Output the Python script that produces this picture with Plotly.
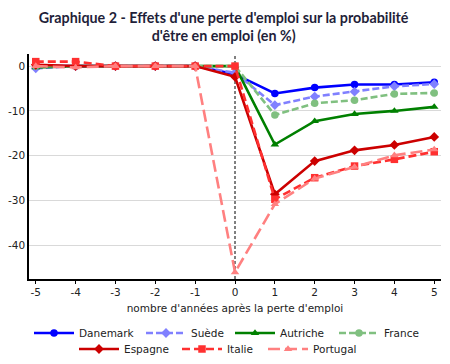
import plotly.graph_objects as go

years = [-5, -4, -3, -2, -1, 0, 1, 2, 3, 4, 5]

danemark = [0.0, 0.0, 0.0, 0.0, 0.0, -1.8, -6.1, -4.8, -4.1, -4.1, -3.6]
suede = [-0.5, 0.0, 0.0, 0.0, 0.0, -1.5, -8.7, -6.8, -5.7, -4.5, -4.0]
autriche = [-0.3, 0.0, 0.0, 0.0, 0.0, 0.0, -17.5, -12.3, -10.7, -10.0, -9.1]
france = [0.0, 0.0, 0.0, 0.0, 0.0, 0.0, -10.9, -8.3, -7.6, -6.2, -6.0]
espagne = [0.3, 0.0, 0.0, 0.0, 0.0, -2.4, -28.6, -21.2, -18.8, -17.6, -15.8]
italie = [1.0, 1.0, 0.0, 0.0, 0.0, 0.0, -29.7, -24.9, -22.3, -20.8, -19.1]
portugal = [0.0, -0.3, 0.0, 0.0, 0.0, -46.0, -30.8, -25.1, -22.5, -19.9, -18.6]

x_ticks = [-5, -4, -3, -2, -1, 0, 1, 2, 3, 4, 5]
y_ticks = [0, -10, -20, -30, -40]

series = [
    ("Danemark", danemark, "#0000FF", "solid", "circle"),
    ("Suède", suede, "#8080FF", "7px,3px", "diamond"),
    ("Autriche", autriche, "#008000", "solid", "triangle-up"),
    ("France", france, "#80C080", "7px,3px", "circle"),
    ("Espagne", espagne, "#CC0000", "solid", "diamond"),
    ("Italie", italie, "#FF3030", "8px,4px", "square"),
    ("Portugal", portugal, "#FF8080", "12px,5px", "triangle-up"),
]

# legend entry placement (left px of the legend box, row center px)
legend_pos = [(29, 333), (141, 333), (230, 333), (334, 333),
              (74, 349), (177, 349), (263, 349)]

fig = go.Figure()
for i, (name, vals, color, dash, sym) in enumerate(series):
    fig.add_trace(go.Scatter(
        x=years, y=vals, name=name, mode="lines+markers",
        line=dict(color=color, width=2.6, dash=dash),
        marker=dict(symbol=sym, size=7.5, color=color),
        legend="legend" if i == 0 else f"legend{i + 1}",
        showlegend=True,
    ))

fig.add_shape(type="line", xref="x", yref="paper", x0=0, x1=0, y0=0, y1=1,
              line=dict(color="black", width=1, dash="3px,2px"), layer="below")

W, H = 450, 364
leg_font = dict(family="DejaVu Sans", size=10.5, color="#222222")
legends = {}
for i, (lx, ly) in enumerate(legend_pos):
    key = "legend" if i == 0 else f"legend{i + 1}"
    legends[key] = dict(orientation="h", xref="container", x=lx / W, xanchor="left",
                        yref="container", y=1 - ly / H, yanchor="middle",
                        font=leg_font, itemwidth=40, tracegroupgap=0,
                        bgcolor="rgba(0,0,0,0)", borderwidth=0)

fig.update_layout(
    width=W, height=H,
    showlegend=True,
    margin=dict(l=29, r=9, t=54, b=85, autoexpand=False),
    paper_bgcolor="white", plot_bgcolor="white",
    title=dict(
        text="Graphique 2 - Effets d'une perte d'emploi sur la probabilité<br>d'être en emploi (en %)",
        xref="container", x=0.497, xanchor="center", yref="container", y=0.938, yanchor="top",
        font=dict(family="Lato", size=14.3, color="#1F1F3A", weight="bold"),
    ),
    font=dict(family="DejaVu Sans", size=10.5, color="#222222"),
    xaxis=dict(
        range=[-5.17, 5.17], tickvals=x_ticks, ticktext=[str(v) for v in x_ticks],
        showgrid=False, zeroline=False, showline=True, linecolor="black", linewidth=1.5,
        ticks="outside", ticklen=3, tickcolor="black", automargin=False,
        title=dict(text="nombre d'années après la perte d'emploi", standoff=7,
                   font=dict(family="DejaVu Sans", size=10.5)),
    ),
    yaxis=dict(
        range=[-47.5, 2.7], tickvals=y_ticks, ticktext=[str(v) for v in y_ticks],
        showgrid=True, gridcolor="#D9D9D9", gridwidth=1, zeroline=False,
        showline=True, linecolor="black", linewidth=1.5, ticks="", automargin=False,
    ),
    **legends,
)

fig.write_html("out.html", config={"displayModeBar": False},
               post_script="document.body.style.margin='0';document.body.style.padding='0';")
